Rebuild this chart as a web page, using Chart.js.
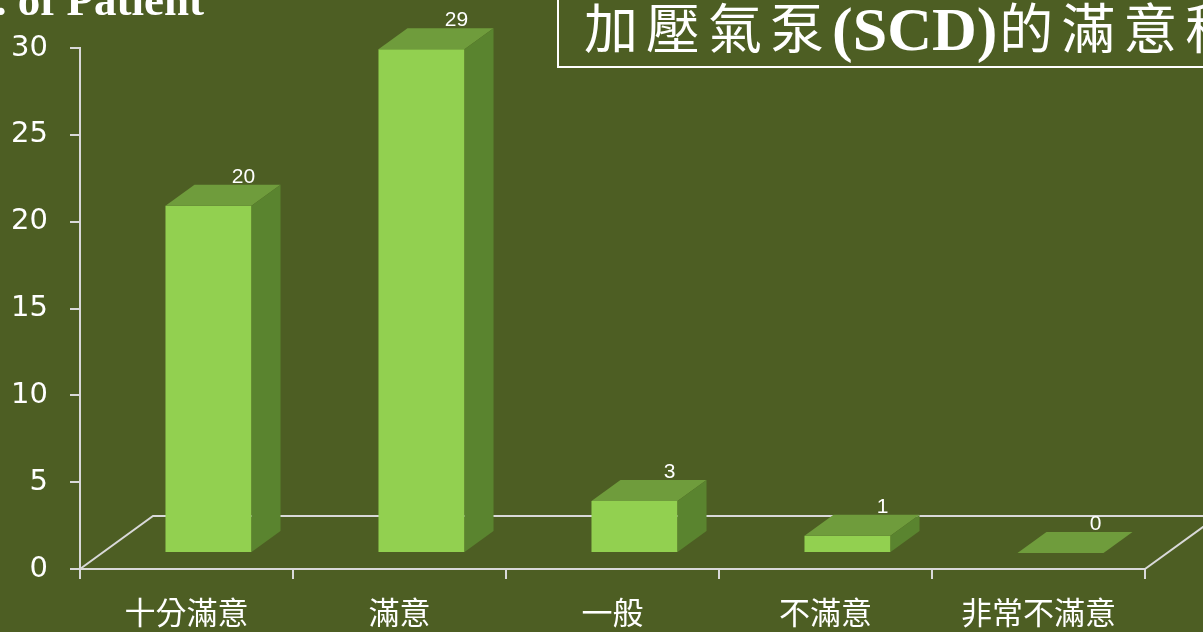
<!DOCTYPE html>
<html>
<head>
<meta charset="utf-8">
<script src="https://cdn.jsdelivr.net/npm/chart.js@4/dist/chart.umd.min.js"></script>
<style>
    html, body { margin: 0; padding: 0; background: #4d5e23; }
    #wrap { width: 1203px; height: 632px; position: relative; }
</style>
</head>
<body>
<div id="wrap"><canvas id="barChart"></canvas></div>
<script>
const categories = ['十分滿意', '滿意', '一般', '不滿意', '非常不滿意'];
const patients = [20, 29, 3, 1, 0];
const yTicks = [0, 5, 10, 15, 20, 25, 30];
const titleText = '加壓氣泵(SCD)的滿意程度';
const yTitle = 'No. of Patient';

const LINE = '#d9d9d9';
const FRONT = '#92d050';
const TOP = '#6f9c3c';
const SIDE = '#5a842f';

// 3D look: floor depth and bar depth (px)
const FLOOR_DX = 73, FLOOR_DY = -53;
const SHIFT_DX = 22, SHIFT_DY = -16;
const BAR_DX = 29, BAR_DY = -21;

const floorPlugin = {
    id: 'floor3d',
    beforeDatasetsDraw(chart) {
        const ctx = chart.ctx;
        const x = chart.scales.x, y = chart.scales.y;
        const base = y.getPixelForValue(0);
        ctx.save();
        ctx.strokeStyle = LINE;
        ctx.lineWidth = 2;
        ctx.beginPath();
        ctx.moveTo(x.left, base);
        ctx.lineTo(x.left + FLOOR_DX, base + FLOOR_DY);
        ctx.lineTo(x.right + FLOOR_DX, base + FLOOR_DY);
        ctx.moveTo(x.right, base);
        ctx.lineTo(x.right + FLOOR_DX, base + FLOOR_DY);
        ctx.stroke();
        ctx.restore();

        // bars are drawn pushed back into the floor
        ctx.save();
        ctx.translate(SHIFT_DX, SHIFT_DY);
    },
    afterDatasetsDraw(chart) {
        const ctx = chart.ctx;
        const meta = chart.getDatasetMeta(0);
        meta.data.forEach((bar, i) => {
            const l = bar.x - bar.width / 2, r = bar.x + bar.width / 2;
            const t = bar.y, b = bar.base;
            // top face
            ctx.fillStyle = TOP;
            ctx.beginPath();
            ctx.moveTo(l, t);
            ctx.lineTo(l + BAR_DX, t + BAR_DY);
            ctx.lineTo(r + BAR_DX, t + BAR_DY);
            ctx.lineTo(r, t);
            ctx.closePath();
            ctx.fill();
            // side face
            if (b - t > 0.5) {
                ctx.fillStyle = SIDE;
                ctx.beginPath();
                ctx.moveTo(r, t);
                ctx.lineTo(r + BAR_DX, t + BAR_DY);
                ctx.lineTo(r + BAR_DX, b + BAR_DY);
                ctx.lineTo(r, b);
                ctx.closePath();
                ctx.fill();
            }
            // value label
            ctx.fillStyle = '#ffffff';
            ctx.font = '21px "Liberation Sans", Arial, sans-serif';
            ctx.textAlign = 'center';
            ctx.textBaseline = 'alphabetic';
            ctx.fillText(String(patients[i]), bar.x + 35, t + BAR_DY - 2);
        });
        ctx.restore();
    },
    afterDraw(chart) {
        const ctx = chart.ctx;
        ctx.save();
        // y axis title (runs off the left edge)
        ctx.fillStyle = '#ffffff';
        ctx.font = 'bold 45px "Liberation Serif", "Times New Roman", serif';
        ctx.textAlign = 'right';
        ctx.textBaseline = 'alphabetic';
        ctx.fillText(yTitle, 204, 15);

        // title box
        ctx.strokeStyle = '#ffffff';
        ctx.lineWidth = 2;
        ctx.strokeRect(558, -10, 700, 77);
        ctx.textAlign = 'left';
        let cx = 584;
        for (const ch of titleText) {
            if (/[A-Za-z()]/.test(ch)) {
                ctx.font = 'bold 62px "Liberation Serif", serif';
                ctx.fillText(ch, cx, 50);
                cx += ctx.measureText(ch).width;
                if (ch === ')') cx += 2;
            } else {
                ctx.font = '54px "Noto Sans CJK TC", sans-serif';
                ctx.fillText(ch, cx, 49);
                cx += 62;
            }
        }
        ctx.restore();
    }
};

new Chart(document.getElementById('barChart'), {
    type: 'bar',
    data: {
        labels: categories,
        datasets: [{
            data: patients,
            backgroundColor: FRONT,
            borderWidth: 0,
            categoryPercentage: 1,
            barPercentage: 0.404,
            clip: false
        }]
    },
    options: {
        responsive: true,
        maintainAspectRatio: false,
        animation: false,
        layout: { padding: { top: 48, right: 58, left: 0, bottom: 0 } },
        plugins: { legend: { display: false }, tooltip: { enabled: false } },
        scales: {
            x: {
                grid: { offset: true, drawOnChartArea: false, tickLength: 10, color: LINE, lineWidth: 2 },
                border: { color: LINE, width: 2 },
                ticks: { color: '#ffffff', font: { family: '"Noto Sans CJK TC"', size: 31 }, padding: 15 },
                afterFit(s) { s.height = 63; }
            },
            y: {
                min: yTicks[0],
                max: yTicks[yTicks.length - 1],
                afterBuildTicks(s) { s.ticks = yTicks.map(v => ({ value: v })); },
                grid: { drawOnChartArea: false, tickLength: 10, color: LINE, lineWidth: 2 },
                border: { color: LINE, width: 2 },
                ticks: { color: '#ffffff', font: { family: '"DejaVu Sans"', size: 29 }, padding: 22 },
                afterFit(s) { s.width = 80; }
            }
        }
    },
    plugins: [floorPlugin]
});
</script>
</body>
</html>
